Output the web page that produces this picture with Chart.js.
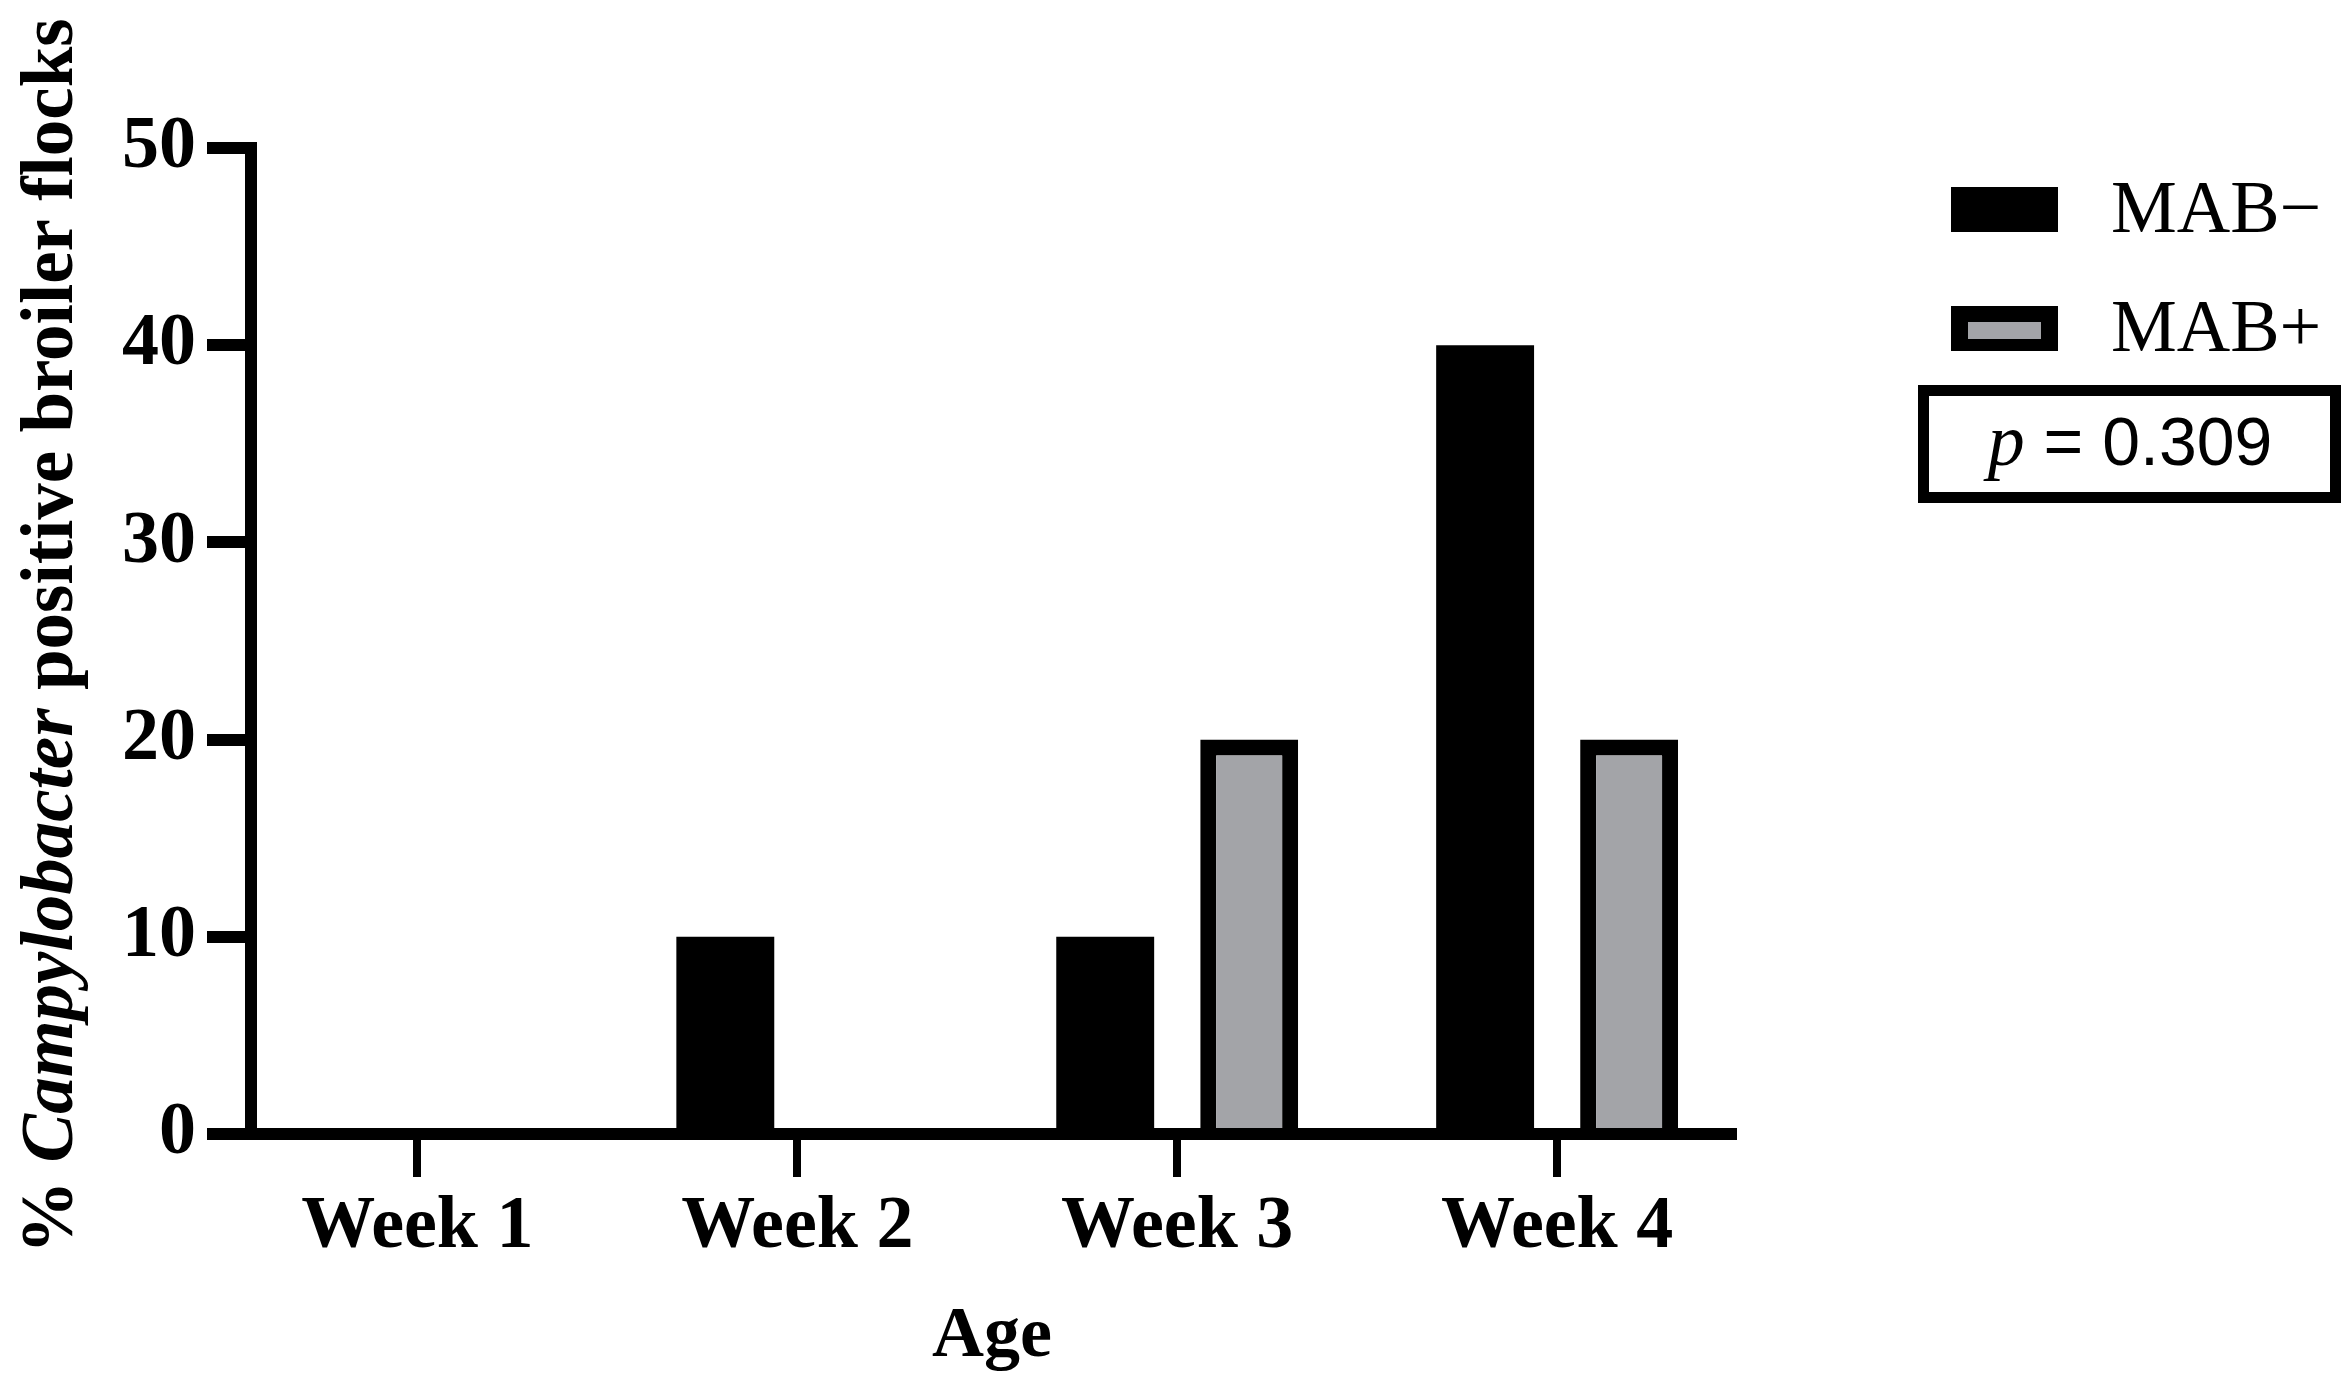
<!DOCTYPE html>
<html>
<head>
<meta charset="utf-8">
<script src="https://cdn.jsdelivr.net/npm/chart.js@4.4.1/dist/chart.umd.min.js"></script>
<style>
  html, body { margin: 0; padding: 0; background: #fff; }
  #wrap { width: 2349px; height: 1391px; position: relative; }
</style>
</head>
<body>
<div id="wrap"><canvas id="myChart"></canvas></div>
<script>
const categories = ['Week 1', 'Week 2', 'Week 3', 'Week 4'];
const mabNeg = [0, 10, 10, 40];
const mabPos = [0, 0, 20, 20];
const yTicks = [0, 10, 20, 30, 40, 50];
const seriesLabels = ['MAB\u2212', 'MAB+'];
const yTitleParts = [['% ', false], ['Campylobacter', true], [' positive broiler flocks', false]];
const xTitle = 'Age';
const pName = 'p';
const pValue = ' = 0.309';

const serif = "'Liberation Serif', 'Times New Roman', serif";
const sans = "'Liberation Sans', Arial, sans-serif";
const grey = '#a3a4a8';

// y title (mixed italic), legend and p-value box
const extras = {
  id: 'extras',
  afterDraw(chart) {
    const ctx = chart.ctx;
    ctx.save();
    ctx.fillStyle = '#000';
    ctx.textBaseline = 'alphabetic';
    ctx.textAlign = 'left';

    // y axis title
    ctx.save();
    ctx.translate(72, 636);
    ctx.rotate(-Math.PI / 2);
    const fontFor = it => (it ? 'italic bold ' : 'bold ') + '73px ' + serif;
    let total = 0;
    yTitleParts.forEach(([t, it]) => { ctx.font = fontFor(it); total += ctx.measureText(t).width; });
    let x = -total / 2;
    yTitleParts.forEach(([t, it]) => {
      ctx.font = fontFor(it);
      ctx.fillText(t, x, 0);
      x += ctx.measureText(t).width;
    });
    ctx.restore();

    // legend
    const ds = chart.data.datasets;
    const rows = [187, 306];
    ds.forEach((d, i) => {
      const top = rows[i];
      const bw = d.borderWidth || 0;
      ctx.fillStyle = bw ? d.borderColor : d.backgroundColor;
      ctx.fillRect(1951, top, 107, 45);
      if (bw) {
        ctx.fillStyle = d.backgroundColor;
        ctx.fillRect(1951 + 17, top + 16, 107 - 34, 17);
      }
      ctx.fillStyle = '#000';
      ctx.font = '74px ' + serif;
      ctx.fillText(d.label, 2111, top + 45);
    });

    // p-value box
    ctx.strokeStyle = '#000';
    ctx.lineWidth = 11;
    ctx.strokeRect(1918 + 5.5, 385 + 5.5, 423 - 11, 118 - 11);
    ctx.font = 'italic 74px ' + serif;
    const wp = ctx.measureText(pName).width;
    ctx.font = '68px ' + sans;
    const wv = ctx.measureText(pValue).width;
    let px = 2130 - (wp + wv) / 2;
    ctx.font = 'italic 74px ' + serif;
    ctx.fillText(pName, px, 465);
    ctx.font = '68px ' + sans;
    ctx.fillText(pValue, px + wp, 465);

    ctx.restore();
  }
};

const ctx = document.getElementById('myChart').getContext('2d');

new Chart(ctx, {
  type: 'bar',
  data: {
    datasets: [{
      label: seriesLabels[0],
      data: mabNeg.map((v, i) => ({ x: i + 1, y: v })),
      backgroundColor: '#000',
      borderWidth: 0
    }, {
      label: seriesLabels[1],
      data: mabPos.map((v, i) => ({ x: i + 1, y: v })),
      backgroundColor: grey,
      borderColor: '#000',
      borderWidth: 16,
      borderSkipped: 'start'
    }]
  },
  options: {
    responsive: true,
    maintainAspectRatio: false,
    animation: false,
    devicePixelRatio: 1,
    categoryPercentage: 0.758,
    barPercentage: 0.68,
    layout: { padding: { left: 0, right: 616, top: 148, bottom: 0 } },
    plugins: {
      legend: { display: false },
      tooltip: { enabled: false }
    },
    scales: {
      x: {
        type: 'linear',
        offset: false,
        min: 0.562,
        max: 4.463,
        afterBuildTicks: s => { s.ticks = categories.map((_, i) => ({ value: i + 1 })); },
        afterFit: s => { s.height = 257; },
        ticks: {
          callback: v => categories[Math.round(v) - 1],
          font: { family: serif, size: 74, weight: 'bold' },
          color: '#000',
          padding: 6,
          maxRotation: 0,
          autoSkip: false
        },
        grid: { offset: false, drawOnChartArea: false, tickLength: 43, lineWidth: 8, color: '#000' },
        border: { display: true, width: 12, color: '#000', z: 1 },
        title: {
          display: true,
          text: xTitle,
          font: { family: serif, size: 72, weight: 'bold' },
          color: '#000',
          padding: { top: 0, bottom: 10 }
        }
      },
      y: {
        min: 0,
        max: 50,
        afterBuildTicks: s => { s.ticks = yTicks.map(v => ({ value: v })); },
        afterFit: s => { s.width = 251; },
        ticks: {
          font: { family: serif, size: 74, weight: 'bold' },
          color: '#000',
          padding: 11
        },
        grid: { drawOnChartArea: false, tickLength: 44, lineWidth: 12, color: '#000' },
        border: { display: true, width: 12, color: '#000', z: 1 }
      }
    }
  },
  plugins: [extras]
});
</script>
</body>
</html>
